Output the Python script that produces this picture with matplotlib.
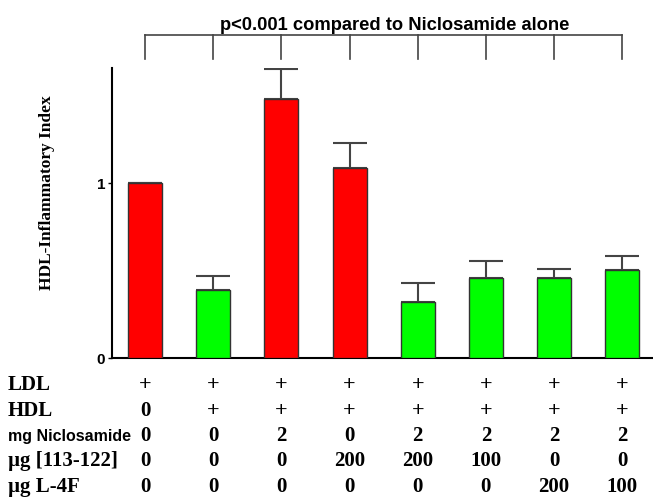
import matplotlib
matplotlib.use("Agg")
import matplotlib.pyplot as plt
from matplotlib.transforms import blended_transform_factory
import numpy as np

# bar heights and upper error (HDL-Inflammatory Index)
values = [1.0, 0.39, 1.48, 1.086, 0.32, 0.457, 0.457, 0.503]
errors = [0.0, 0.08, 0.17, 0.145, 0.11, 0.10, 0.05, 0.08]
colors = ["#ff0000", "#00ff00", "#ff0000", "#ff0000",
          "#00ff00", "#00ff00", "#00ff00", "#00ff00"]

row_labels = ["LDL", "HDL", "mg Niclosamide", "\u00b5g [113-122]", "\u00b5g L-4F"]
ldl = ["+", "+", "+", "+", "+", "+", "+", "+"]
hdl = ["0", "+", "+", "+", "+", "+", "+", "+"]
niclosamide = ["0", "0", "2", "0", "2", "2", "2", "2"]
peptide_113_122 = ["0", "0", "0", "200", "200", "100", "0", "0"]
l4f = ["0", "0", "0", "0", "0", "0", "200", "100"]
table_rows = [ldl, hdl, niclosamide, peptide_113_122, l4f]

title = "p<0.001 compared to Niclosamide alone"

serif = ["Liberation Serif", "DejaVu Serif"]
sans = ["Liberation Sans", "DejaVu Sans"]

fig = plt.figure(figsize=(6.53, 4.98), dpi=100)
ax = fig.add_axes([0.1715, 0.2811, 0.8285, 0.5823])

x = np.arange(len(values))
ax.bar(x, values, width=0.5, color=colors, edgecolor="#333333", linewidth=1, zorder=3)
ax.errorbar(x, values, yerr=[np.zeros(len(errors)), errors], fmt="none",
            ecolor="#444444", elinewidth=1.5, capsize=12, capthick=1.5, zorder=2)

ax.set_xlim(-0.484, 7.45)
ax.set_ylim(0, 1.657)
ax.set_xticks([])
ax.set_yticks([0, 1])
ax.set_yticklabels(["0", "1"], fontfamily=sans, fontweight="bold", fontsize=11)
ax.tick_params(axis="y", length=3, width=1, pad=2)
for side in ["top", "right"]:
    ax.spines[side].set_visible(False)
ax.spines["left"].set_linewidth(1.5)
ax.spines["bottom"].set_linewidth(1.5)
ax.set_ylabel("HDL-Inflammatory Index", fontfamily=serif, fontweight="bold",
              fontsize=12.5)
ax.yaxis.set_label_coords(-0.105, 0.572)

# significance bracket above the bars
ax.plot([x[0], x[-1]], [1.846, 1.846], color="#444444", lw=1.2, clip_on=False)
for xi in x:
    ax.plot([xi, xi], [1.846, 1.709], color="#444444", lw=1.2, clip_on=False)
ax.text(3.66, 1.874, title, ha="center", va="baseline",
        fontfamily=sans, fontweight="bold", fontsize=13.2, clip_on=False)

# treatment table under the axis
trans = blended_transform_factory(ax.transData, fig.transFigure)
row_y = [385, 411, 436, 461, 487]
for label, row, ypx in zip(row_labels, table_rows, row_y):
    yf = 1 - ypx / 498
    if label.startswith("mg"):
        fig.text(0.012, yf, label, ha="left", va="center", fontfamily=sans,
                 fontweight="bold", fontsize=11.5)
    else:
        fig.text(0.012, yf, label, ha="left", va="center", fontfamily=serif,
                 fontweight="bold", fontsize=15)
    for xi, val in zip(x, row):
        size = 16 if val == "+" else 15
        ax.text(xi, yf, val, transform=trans, ha="center", va="center",
                fontfamily=serif, fontweight="bold", fontsize=size, clip_on=False)

fig.savefig("out.png", dpi=100)
